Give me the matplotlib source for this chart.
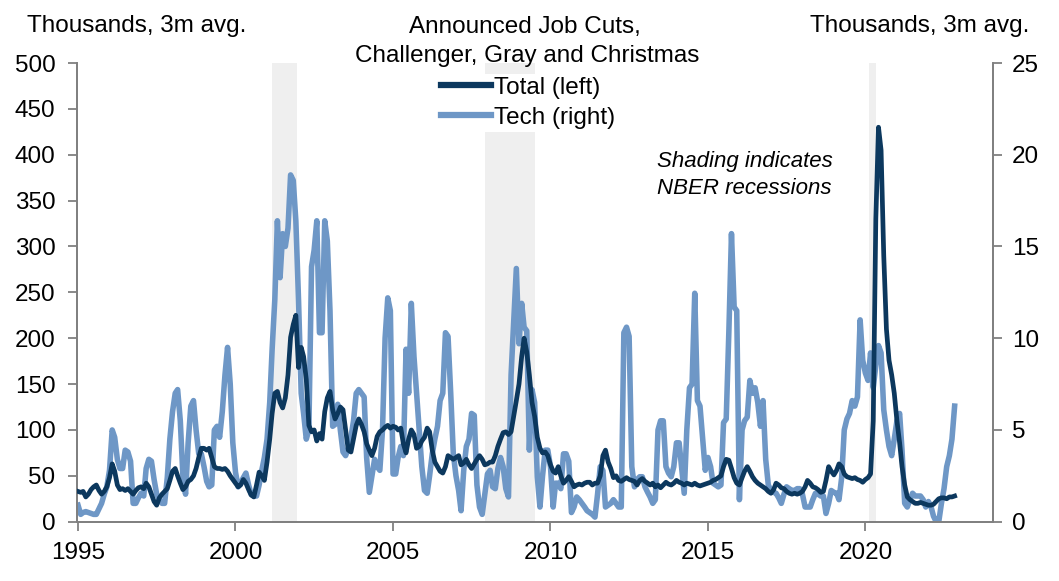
import numpy as np
import pandas as pd
import matplotlib
matplotlib.use("Agg")
import matplotlib.pyplot as plt
import matplotlib.dates as mdates

plt.rcParams['font.family'] = ['Liberation Sans', 'DejaVu Sans']

# Monthly values, Jan 1995 .. Nov 2022 (thousands, 3m avg.)
total_left = [
    33, 32, 33, 27, 30, 35, 38, 40, 34, 30, 33, 38,          # 1995
    48, 63, 55, 40, 35, 36, 34, 36, 33, 30, 34, 37,          # 1996
    38, 36, 42, 38, 30, 22, 18, 26, 30, 33, 36, 45,          # 1997
    55, 58, 50, 42, 35, 38, 44, 46, 50, 58, 70, 80,          # 1998
    80, 78, 80, 70, 60, 58, 58, 57, 58, 55, 50, 46,          # 1999
    42, 38, 40, 46, 42, 35, 29, 27, 40, 54, 50, 45,          # 2000
    65, 90, 118, 140, 142, 130, 124, 135, 160, 201, 215, 225,  # 2001
    168, 190, 180, 155, 105, 98, 100, 88, 96, 90, 120, 135,  # 2002
    142, 122, 112, 118, 125, 122, 100, 78, 76, 90, 105, 112,  # 2003
    106, 98, 85, 78, 72, 80, 93, 98, 100, 103, 105, 102,     # 2004
    104, 103, 100, 102, 85, 75, 90, 100, 95, 80, 82, 88,     # 2005
    92, 102, 98, 78, 65, 60, 55, 53, 60, 72, 70, 68,         # 2006
    70, 72, 62, 64, 68, 62, 58, 63, 68, 72, 68, 62,          # 2007
    63, 65, 65, 72, 82, 90, 97, 98, 95, 98, 115, 132,        # 2008
    150, 180, 200, 185, 160, 130, 115, 92, 80, 75, 76, 72,   # 2009
    62, 55, 53, 60, 50, 42, 45, 49, 44, 38, 40, 41,          # 2010
    40, 42, 43, 43, 40, 42, 42, 50, 72, 78, 65, 58,          # 2011
    48, 50, 45, 44, 46, 48, 46, 45, 44, 40, 45, 47,          # 2012
    44, 42, 40, 42, 38, 40, 37, 40, 43, 41, 40, 42,          # 2013
    45, 43, 42, 40, 42, 41, 40, 42, 40, 39, 40, 41,          # 2014
    42, 43, 45, 46, 48, 50, 60, 68, 67, 58, 48, 42,          # 2015
    40, 48, 55, 60, 55, 49, 45, 42, 40, 38, 36, 33,          # 2016
    31, 35, 42, 40, 37, 36, 33, 31, 30, 31, 30, 31,          # 2017
    33, 38, 45, 42, 38, 37, 35, 32, 33, 45, 60, 55,          # 2018
    51, 56, 63, 60, 52, 49, 48, 47, 48, 46, 45, 43,          # 2019
    46, 48, 52, 110, 330, 430, 405, 290, 210, 176, 160, 140,  # 2020
    110, 86, 60, 40, 27, 24, 22, 20, 20, 21, 20, 19,         # 2021
    18, 18, 19, 22, 25, 26, 26, 25, 27, 27, 28,              # 2022
]

tech_right = [
    0.9, 0.4, 0.5, 0.55, 0.5, 0.45, 0.4, 0.4, 0.7, 1.0, 1.5, 1.9,      # 1995
    2.8, 5.0, 4.6, 3.4, 2.9, 2.9, 3.9, 3.8, 3.3, 1.0, 1.0, 1.3,        # 1996
    1.55, 1.4, 2.9, 3.4, 3.3, 2.3, 1.5, 1.2, 1.0, 1.0, 2.4, 4.5,       # 1997
    6.0, 7.0, 7.2, 5.5, 2.5, 1.5, 4.3, 6.3, 6.6, 5.0, 3.7, 3.7,        # 1998
    3.0, 2.2, 1.9, 2.0, 5.0, 5.2, 4.6, 6.0, 8.0, 9.5, 7.5, 4.3,        # 1999
    2.7, 1.9, 2.1, 2.4, 2.65, 2.0, 1.5, 1.4, 1.4, 2.0, 2.8, 3.5,       # 2000
    4.5, 6.5, 9.4, 12.1, 16.4, 13.3, 15.7, 15.0, 16.0, 18.9, 18.6, 16.4,  # 2001
    12.1, 7.0, 5.9, 4.5, 5.0, 13.9, 14.8, 16.4, 10.3, 10.3, 16.4, 15.3,   # 2002
    11.5, 5.2, 5.3, 6.4, 5.0, 3.8, 3.6, 4.0, 4.6, 5.5, 7.0, 7.2,       # 2003
    7.0, 6.8, 3.5, 1.6, 2.5, 3.4, 3.0, 2.8, 5.0, 10.0, 12.2, 11.5,     # 2004
    2.6, 2.6, 3.5, 4.1, 3.6, 9.4, 7.0, 11.9, 9.0, 7.0, 5.0, 3.0,       # 2005
    1.7, 1.55, 2.5, 3.7, 4.5, 5.2, 6.6, 7.0, 10.3, 10.1, 7.0, 3.7,     # 2006
    2.5, 1.7, 0.6, 2.8, 4.1, 4.5, 5.9, 5.8, 2.0, 0.8, 0.4, 1.5,        # 2007
    2.6, 2.8, 1.9, 1.8, 2.9, 3.5, 3.0, 1.8, 1.35, 8.0, 11.0, 13.8,     # 2008
    9.7, 11.9, 10.6, 10.4, 3.9, 7.2, 6.5, 2.45, 0.8, 2.5, 3.9, 3.9,    # 2009
    3.0, 0.8, 2.1, 2.1, 1.8, 3.7, 3.7, 3.3, 0.5, 0.8, 1.35, 1.2,       # 2010
    1.0, 0.8, 0.6, 0.5, 0.4, 0.25, 1.5, 3.0, 2.8, 0.8, 0.9, 1.0,       # 2011
    1.2, 1.0, 0.8, 0.8, 10.3, 10.6, 10.1, 3.0, 1.9, 2.3, 2.45, 2.45,   # 2012
    1.9, 1.6, 1.35, 1.0, 1.2, 5.0, 5.5, 5.5, 3.0, 2.65, 2.45, 3.0,     # 2013
    4.3, 4.3, 3.0, 1.55, 5.0, 7.3, 7.5, 12.45, 6.6, 6.3, 4.5, 2.8,     # 2014
    3.5, 3.0, 2.1, 2.0, 1.9, 2.0, 5.4, 5.6, 10.4, 15.7, 11.7, 11.5,    # 2015
    1.2, 5.0, 5.5, 5.7, 7.7, 7.0, 7.3, 6.5, 5.2, 6.6, 3.4, 2.0,        # 2016
    1.7, 1.6, 1.55, 1.3, 1.0, 1.5, 1.9, 1.8, 1.7, 1.7, 1.8, 1.8,       # 2017
    1.5, 0.8, 0.8, 0.8, 1.2, 1.55, 1.5, 1.4, 1.4, 0.45, 1.0, 1.7,      # 2018
    1.6, 1.55, 1.2, 2.4, 5.0, 5.6, 5.9, 6.6, 6.3, 6.8, 11.0, 8.8,      # 2019
    8.1, 7.7, 9.2, 7.3, 8.5, 9.6, 9.2, 6.1, 5.0, 4.1, 3.6, 4.5,        # 2020
    5.5, 5.9, 3.9, 1.0, 0.8, 1.2, 1.55, 1.4, 1.4, 1.4, 1.2, 0.8,       # 2021
    1.1, 0.8, 0.3, 0.0, 0.0, 1.0, 1.8, 3.0, 3.6, 4.5, 6.3,             # 2022
]

recession_starts = ['2001-03-01', '2007-12-01', '2020-02-10']
recession_ends = ['2001-12-10', '2009-06-30', '2020-04-30']

left_ticks = [0, 50, 100, 150, 200, 250, 300, 350, 400, 450, 500]
right_ticks = [0, 5, 10, 15, 20, 25]

dates = pd.date_range('1995-01-01', periods=len(total_left), freq='MS')

DARK = '#0C385E'
LIGHT = '#6E97C6'
SPINE = '#808080'
FS = 17.5

fig = plt.figure(figsize=(10.59, 5.81), dpi=100)
W, H = 1059, 581
ax2 = fig.add_axes([77 / W, 1 - 521.7 / H, (993 - 77) / W, (521.7 - 63) / H])
ax = ax2.twinx()

# shading and tech on ax2 (right scale), total on ax (left scale) drawn on top
for s, e in zip(recession_starts, recession_ends):
    ax2.axvspan(pd.Timestamp(s), pd.Timestamp(e), color='#EFEFEF', lw=0, zorder=0)

l_tech, = ax2.plot(dates, tech_right, color=LIGHT, lw=4.0, solid_joinstyle='round', zorder=2)
l_tot, = ax.plot(dates, total_left, color=DARK, lw=3.4, solid_joinstyle='round', zorder=3)

ax.set_zorder(ax2.get_zorder() + 1)
ax.patch.set_visible(False)

ax2.yaxis.tick_right()
ax2.yaxis.set_label_position('right')
ax.yaxis.tick_left()
ax.yaxis.set_label_position('left')

ax.set_ylim(0, 500)
ax2.set_ylim(0, 25)
ax.set_yticks(left_ticks)
ax2.set_yticks(right_ticks)
ax2.set_xlim(pd.Timestamp('1994-12-20'), pd.Timestamp('2024-01-20'))
ax2.xaxis.set_major_locator(mdates.YearLocator(5))
ax2.xaxis.set_major_formatter(mdates.DateFormatter('%Y'))

for a in (ax, ax2):
    a.spines['top'].set_visible(False)
    for side in ('left', 'right', 'bottom'):
        a.spines[side].set_color(SPINE)
        a.spines[side].set_linewidth(1.3)

ax.tick_params(axis='y', which='both', direction='out', length=6.5, width=1.3,
               color=SPINE, labelsize=FS, pad=9, labelcolor='black')
ax2.tick_params(axis='y', which='both', direction='out', length=6.5, width=1.3,
                color=SPINE, labelsize=FS, pad=7, labelcolor='black')
ax2.tick_params(axis='x', which='both', direction='out', length=6.5, width=1.3,
                color=SPINE, labelsize=FS, pad=8, labelcolor='black')
ax.tick_params(axis='x', which='both', length=0, labelbottom=False)

leg = ax.legend([l_tot, l_tech], ['Total (left)', 'Tech (right)'],
                loc='upper left', bbox_to_anchor=(438 / W, 1 - 74 / H),
                bbox_transform=fig.transFigure, fontsize=FS, frameon=True,
                facecolor='white', edgecolor='none', framealpha=1, fancybox=False,
                handlelength=2.05, handletextpad=0.15, labelspacing=0.32,
                borderpad=0.12, borderaxespad=0)
for h in leg.get_lines():
    h.set_linewidth(4.5)

fig.text(27 / W, 1 - 26 / H, 'Thousands, 3m avg.', fontsize=FS, ha='left', va='center')
fig.text(1029 / W, 1 - 26 / H, 'Thousands, 3m avg.', fontsize=FS, ha='right', va='center')
fig.text(525 / W, 1 - 27 / H, 'Announced Job Cuts,', fontsize=FS, ha='center', va='center')
fig.text(527 / W, 1 - 56 / H, 'Challenger, Gray and Christmas', fontsize=FS, ha='center', va='center')
fig.text(657 / W, 1 - 162 / H, 'Shading indicates', fontsize=16, style='italic', ha='left', va='center')
fig.text(657 / W, 1 - 188 / H, 'NBER recessions', fontsize=16, style='italic', ha='left', va='center')

fig.savefig('out.png', dpi=100)
